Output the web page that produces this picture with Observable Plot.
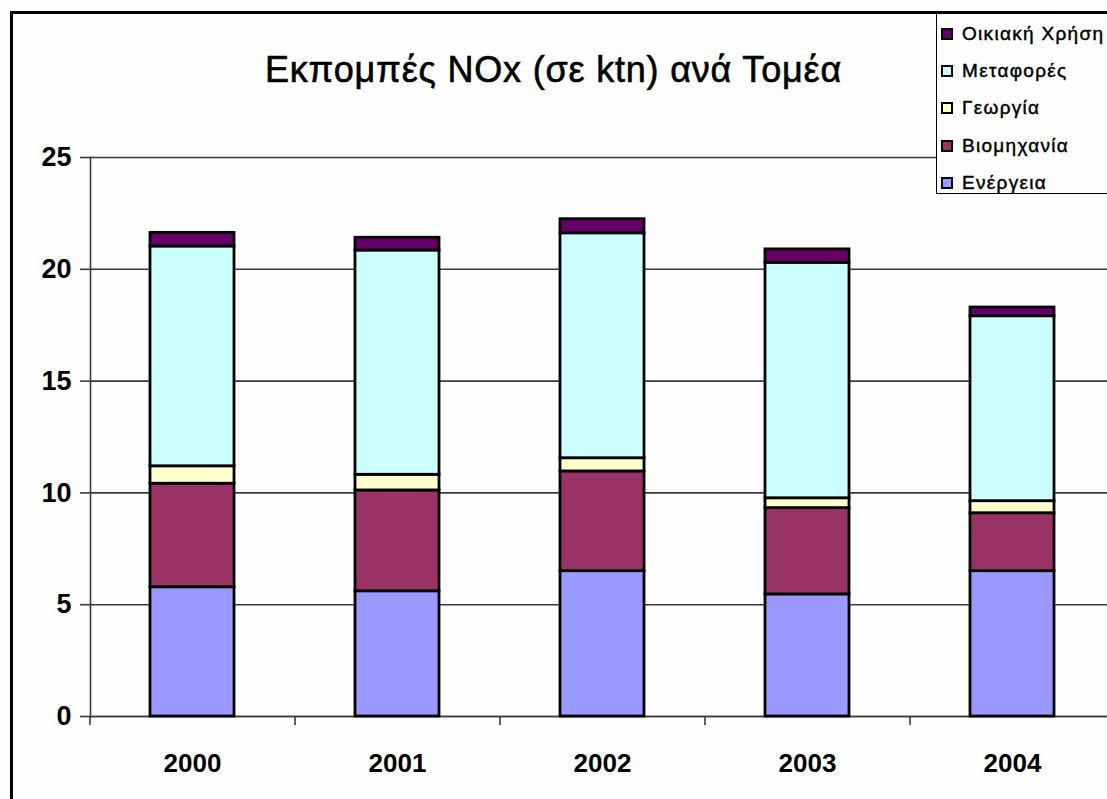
<!DOCTYPE html>
<html>
<head>
<meta charset="utf-8">
<script src="https://cdn.jsdelivr.net/npm/d3@7"></script>
<script src="https://cdn.jsdelivr.net/npm/@observablehq/plot@0.6"></script>
<style>
  html, body { margin: 0; padding: 0; background: #fefefe; overflow: hidden; }
  #wrap { position: relative; width: 1107px; height: 799px; overflow: hidden; background: #fefefe; font-family: "Liberation Sans", Arial, sans-serif; }
  #chart { position: absolute; left: 0; top: 0; }
  #frame { position: absolute; left: 10px; top: 11px; width: 1200px; height: 900px; border-left: 3px solid #000; border-top: 3px solid #000; pointer-events: none; }
  #title { position: absolute; left: 0; width: 1107px; top: 49px; text-align: center; font-size: 36px; color: #000; letter-spacing: 0.8px; -webkit-text-stroke: 0.6px #000; }
  #legend { position: absolute; left: 936px; top: 13px; width: 220px; height: 179px; border: 1px solid #000; background: #fefefe; }
  .item { position: absolute; left: 4px; height: 22px; display: flex; align-items: center; font-size: 19px; letter-spacing: 1.3px; white-space: nowrap; color: #000; -webkit-text-stroke: 0.45px #000; }
  .sw { width: 8px; height: 8px; border: 2.5px solid #000; margin-right: 9px; }
</style>
</head>
<body>
<div id="wrap">
  <div id="chart"></div>
  <div id="title"></div>
  <div id="legend"></div>
  <div id="frame"></div>
</div>
<script>
const title = "Εκπομπές NOx (σε ktn) ανά Τομέα";
const years = ["2000", "2001", "2002", "2003", "2004"];
const sectors = ["Ενέργεια", "Βιομηχανία", "Γεωργία", "Μεταφορές", "Οικιακή Χρήση"];
const colors = ["#9999FF", "#993366", "#FFFFCC", "#CCFFFF", "#660066"];
const energy      = [5.78, 5.60, 6.50, 5.46, 6.50];
const industry    = [4.63, 4.51, 4.46, 3.86, 2.59];
const agriculture = [0.78, 0.70, 0.59, 0.44, 0.54];
const transport   = [9.83, 10.03, 10.06, 10.53, 8.27];
const household   = [0.61, 0.57, 0.63, 0.60, 0.39];
const yTicks = [0, 5, 10, 15, 20, 25];

const series = [energy, industry, agriculture, transport, household];
const data = [];
sectors.forEach((s, i) => years.forEach((y, j) => data.push({year: y, sector: s, value: series[i][j]})));

document.getElementById("title").textContent = title;

const chart = Plot.plot({
  width: 1107,
  height: 799,
  marginTop: 157,
  marginBottom: 83,
  marginLeft: 90,
  marginRight: 0,
  style: {background: "transparent", fontFamily: "'Liberation Sans', Arial, sans-serif", color: "#000"},
  x: {domain: years, range: [90, 1115], paddingInner: 0.59, paddingOuter: 0.295, label: null},
  y: {domain: [0, 25], label: null},
  color: {domain: sectors, range: colors},
  marks: [
    Plot.gridY(yTicks, {stroke: "#3a3a3a", strokeOpacity: 1, strokeWidth: 1.6}),
    Plot.frame({anchor: "left", stroke: "#3a3a3a", strokeWidth: 1.6}),
    Plot.ruleY([0], {stroke: "#3a3a3a", strokeWidth: 1.6}),
    Plot.axisY(yTicks, {tickSize: 10, tickPadding: 9, fontSize: 27, fontWeight: "bold", stroke: "#3a3a3a", strokeWidth: 1.6, label: null}),
    Plot.axisX({tickSize: 0, tickPadding: 37, fontSize: 26, fontWeight: "bold", label: null}),
    Plot.axisX({tickSize: 9, dx: -102.5, text: null, stroke: "#3a3a3a", strokeWidth: 1.6, label: null}),
    Plot.barY(data, {x: "year", y: "value", fill: "sector", order: sectors, stroke: "#000", strokeWidth: 2.8})
  ]
});
document.getElementById("chart").appendChild(chart);

const legend = document.getElementById("legend");
sectors.slice().reverse().forEach((s, k) => {
  const i = sectors.indexOf(s);
  const item = document.createElement("div");
  item.className = "item";
  item.style.top = (9 + k * 37.2) + "px";
  const sw = document.createElement("div");
  sw.className = "sw";
  sw.style.background = colors[i];
  const t = document.createElement("span");
  t.textContent = s;
  item.appendChild(sw);
  item.appendChild(t);
  legend.appendChild(item);
});
</script>
</body>
</html>
